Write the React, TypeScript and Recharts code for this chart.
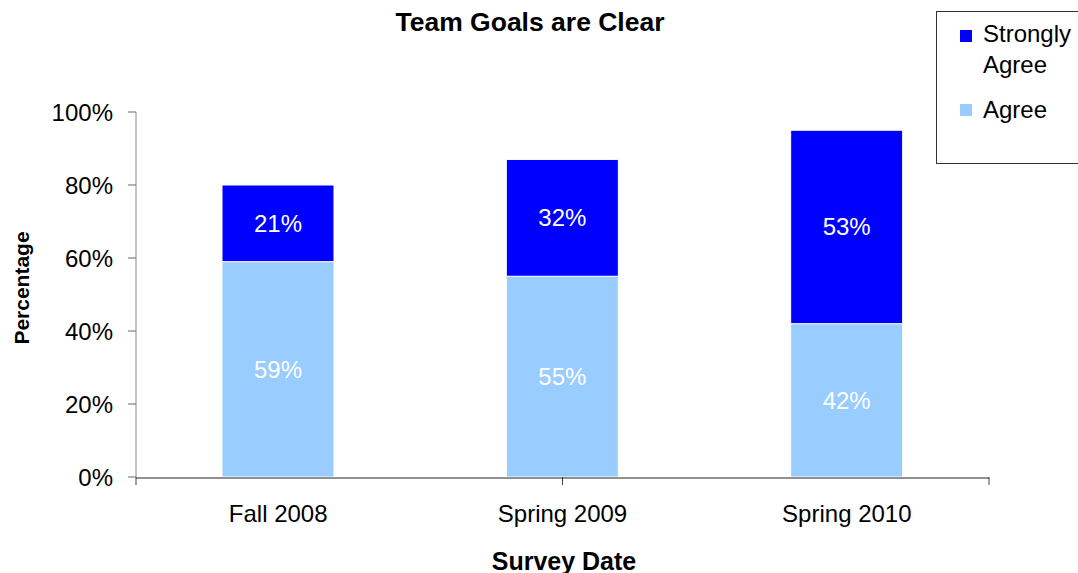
import React from 'react';
import { BarChart, Bar, XAxis, YAxis, Legend, LabelList } from 'recharts';

const categories = ['Fall 2008', 'Spring 2009', 'Spring 2010'];
const agree = [59, 55, 42];
const stronglyAgree = [21, 32, 53];
const yTicks = [0, 20, 40, 60, 80, 100];
const boundaryTicks = [0, 1, 2, 3];

const data = categories.map((c, i) => ({ name: c, agree: agree[i], strongly: stronglyAgree[i] }));

const FONT = '"Liberation Sans", Arial, sans-serif';
const BLUE = '#0000FF';
const LIGHT = '#99CCFF';

const LegendBox = (props: any) => {
  const payload = (props.payload || []).slice();
  const strong = payload.find((p: any) => p.dataKey === 'strongly');
  const ag = payload.find((p: any) => p.dataKey === 'agree');
  const items = [
    { p: strong, sq: 24.5, tx: 5.5 },
    { p: ag, sq: 99, tx: 81.5 },
  ];
  return (
    <div style={{ position: 'relative', width: 142, height: 153, boxSizing: 'border-box', border: '1px solid #333', borderRight: 'none', background: '#fff', fontFamily: FONT, fontSize: 24, color: '#000' }}>
      {items.map((it, i) => it.p ? (
        <React.Fragment key={i}>
          <div style={{ position: 'absolute', left: 23, top: it.sq - 7, width: 12, height: 12, background: it.p.color }} />
          <div style={{ position: 'absolute', left: 46, top: it.tx, width: 95, lineHeight: '31px' }}>{it.p.value}</div>
        </React.Fragment>
      ) : null)}
    </div>
  );
};

const EmptyTick = () => <g />;

export default function App() {
  return (
    <div style={{ position: 'absolute', left: 0, top: 0, width: 1078, height: 573, background: '#fff', overflow: 'hidden' }}>
      <BarChart width={1078} height={573} data={data} margin={{ top: 112, right: 89, bottom: 35, left: 56 }}>
        <XAxis xAxisId="bnd" type="number" domain={[0, 3]} ticks={boundaryTicks} height={1} axisLine={false}
          tickLine={{ stroke: '#444' }} tickSize={8} tick={<EmptyTick />} allowDataOverflow />
        <XAxis xAxisId="cat" dataKey="name" height={60} axisLine={{ stroke: '#222' }} tickLine={false} tickSize={0} tickMargin={27}
          tick={{ fill: '#000', fontSize: 24, fontFamily: FONT }} interval={0} />
        <YAxis width={80} domain={[0, 100]} ticks={yTicks} tickFormatter={(v: number) => `${v}%`} axisLine={{ stroke: '#888' }}
          tickLine={{ stroke: '#666' }} tickSize={8} tickMargin={15} tick={{ fill: '#000', fontSize: 24, fontFamily: FONT }} />
        <Legend layout="horizontal" verticalAlign="middle" align="center" content={<LegendBox />}
          wrapperStyle={{ position: 'absolute', left: 936, top: 11, width: 142, height: 153, margin: 0 }} />
        <Bar xAxisId="cat" dataKey="agree" name="Agree" stackId="s" fill={LIGHT} stroke="#fff" strokeWidth={1} barSize={112} isAnimationActive={false}>
          <LabelList dataKey="agree" position="center" formatter={(v: any) => `${v}%`} fill="#fff" fontSize={24} fontFamily={FONT} />
        </Bar>
        <Bar xAxisId="cat" dataKey="strongly" name="Strongly Agree" stackId="s" fill={BLUE} stroke="#fff" strokeWidth={1} barSize={112} isAnimationActive={false}>
          <LabelList dataKey="strongly" position="center" formatter={(v: any) => `${v}%`} fill="#fff" fontSize={24} fontFamily={FONT} />
        </Bar>
      </BarChart>
      <div style={{ position: 'absolute', left: 530, top: 22, transform: 'translate(-50%, -50%)', fontFamily: FONT, fontWeight: 'bold', fontSize: 26.5, whiteSpace: 'nowrap', color: '#000' }}>Team Goals are Clear</div>
      <div style={{ position: 'absolute', left: 564, top: 561, transform: 'translate(-50%, -50%)', fontFamily: FONT, fontWeight: 'bold', fontSize: 25, whiteSpace: 'nowrap', color: '#000' }}>Survey Date</div>
      <div style={{ position: 'absolute', left: 22, top: 288, transform: 'translate(-50%, -50%) rotate(-90deg)', fontFamily: FONT, fontWeight: 'bold', fontSize: 21, whiteSpace: 'nowrap', color: '#000' }}>Percentage</div>
    </div>
  );
}
